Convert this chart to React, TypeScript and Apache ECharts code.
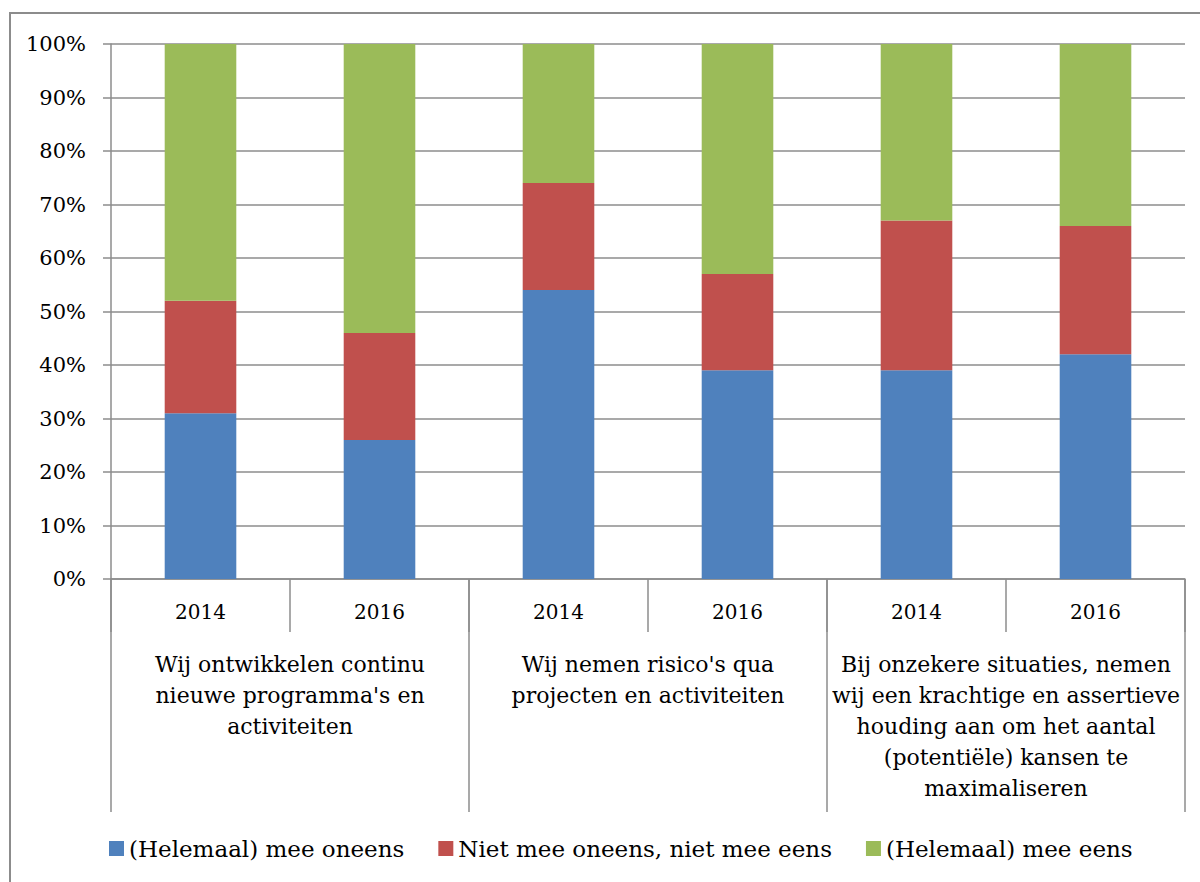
import React, { useEffect, useRef } from "react";
import * as echarts from "echarts";

const years = ["2014", "2016", "2014", "2016", "2014", "2016"];
const groups = [
  "Wij ontwikkelen continu\nnieuwe programma's en\nactiviteiten",
  "Wij nemen risico's qua\nprojecten en activiteiten",
  "Bij onzekere situaties, nemen\nwij een krachtige en assertieve\nhouding aan om het aantal\n(potentiële) kansen te\nmaximaliseren",
];
const seriesNames = ["(Helemaal) mee oneens", "Niet mee oneens, niet mee eens", "(Helemaal) mee eens"];
const disagree = [31, 26, 54, 39, 39, 42];
const neutral = [21, 20, 20, 18, 28, 24];
const agree = [48, 54, 26, 43, 33, 34];
const yTicks = [0, 100, 10];

const FONT = "DejaVu Serif";
const GREY = "#8c8c8c";

export default function App() {
  const ref = useRef<HTMLDivElement>(null);
  useEffect(() => {
    document.body.style.margin = "0";
    const chart = echarts.init(ref.current!, null, { renderer: "svg" });
    const mk = (name: string, data: number[], color: string) => ({
      name,
      type: "bar",
      stack: "total",
      data,
      barWidth: "40%",
      itemStyle: { color },
      xAxisIndex: 0,
    });
    chart.setOption({
      animation: false,
      textStyle: { fontFamily: FONT },
      graphic: [
        {
          type: "rect",
          shape: { x: 10, y: 13, width: 1250, height: 950 },
          style: { fill: "none", stroke: GREY, lineWidth: 2 },
          silent: true,
        },
      ],
      grid: { left: 111, right: 15, top: 44, bottom: 303, containLabel: false },
      legend: {
        bottom: 17,
        left: 104,
        itemWidth: 15,
        itemHeight: 15,
        itemGap: 34,
        icon: "rect",
        textStyle: { fontFamily: FONT, fontSize: 23, color: "#000" },
        data: seriesNames,
      },
      xAxis: [
        {
          type: "category",
          position: "bottom",
          data: years,
          axisLine: { show: true, lineStyle: { color: GREY, width: 1.5 } },
          axisTick: { show: true, interval: 0, length: 53, lineStyle: { color: GREY, width: 1.5 } },
          axisLabel: { interval: 0, margin: 23, fontSize: 20, color: "#000", fontFamily: FONT },
        },
        {
          type: "category",
          position: "bottom",
          offset: 0,
          data: groups,
          axisLine: { show: false },
          axisTick: { show: true, interval: 0, length: 233, lineStyle: { color: GREY, width: 1.5 } },
          axisLabel: { interval: 0, margin: 70, fontSize: 22, lineHeight: 31, color: "#000", fontFamily: FONT, align: "center" },
        },
      ],
      yAxis: {
        type: "value",
        min: yTicks[0],
        max: yTicks[1],
        interval: yTicks[2],
        axisLine: { show: true, lineStyle: { color: GREY, width: 1.5 } },
        axisTick: { show: true, length: 8, lineStyle: { color: GREY, width: 1.5 } },
        splitLine: { show: true, lineStyle: { color: GREY, width: 1.5 } },
        axisLabel: { margin: 25, fontSize: 21, color: "#000", fontFamily: FONT, formatter: "{value}%" },
      },
      series: [
        mk(seriesNames[0], disagree, "#4f81bd"),
        mk(seriesNames[1], neutral, "#c0504d"),
        mk(seriesNames[2], agree, "#9bbb59"),
      ],
    });
    return () => chart.dispose();
  }, []);
  return <div ref={ref} style={{ width: 1200, height: 882 }} />;
}
